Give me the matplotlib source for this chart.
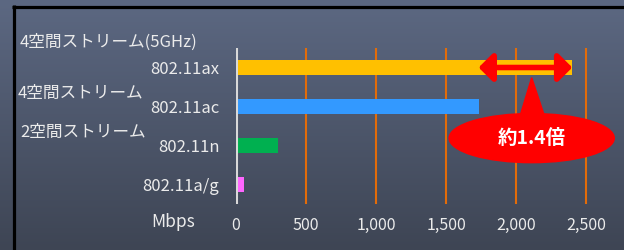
import numpy as np
import matplotlib.pyplot as plt
from matplotlib.patches import Ellipse, Polygon, FancyArrowPatch

plt.rcParams['font.family'] = ['Noto Sans CJK JP', 'DejaVu Sans']

# data
standards = ['802.11ax', '802.11ac', '802.11n', '802.11a/g']
speeds = [2402, 1733, 300, 54]
bar_colors = ['#FFC000', '#3399FF', '#00B050', '#FF66FF']
stream_labels = ['4空間ストリーム(5GHz)', '4空間ストリーム', '2空間ストリーム']
xticks = [0, 500, 1000, 1500, 2000, 2500]
callout_text = '約1.4倍'

txt = '#EBEBEB'

fig = plt.figure(figsize=(6.24, 2.5), dpi=100)

# background gradient
bg = fig.add_axes([0, 0, 1, 1], zorder=-10)
grad = np.linspace(0, 1, 256).reshape(-1, 1)
top = np.array([92, 104, 130]) / 255
bot = np.array([62, 69, 84]) / 255
img = top + (bot - top) * grad[..., None]
bg.imshow(img, aspect='auto', extent=[0, 1, 0, 1])
bg.set_xlim(0, 1)
bg.set_ylim(0, 1)
bg.axis('off')
# black frame lines (top and left)
bg.plot([12 / 624, 1], [1 - 6.5 / 250] * 2, color='black', lw=2.3, solid_capstyle='butt')
bg.plot([13.5 / 624] * 2, [0, 1 - 5 / 250], color='black', lw=2.3, solid_capstyle='butt')

ax = fig.add_axes([236 / 624, 46 / 250, 364 / 624, 156 / 250])
ax.patch.set_visible(False)
y = np.arange(len(standards))
ax.barh(y, speeds, height=0.36, color=bar_colors, zorder=3)
ax.set_xlim(0, 2600)
ax.set_ylim(len(standards) - 0.5, -0.5)
for s in ax.spines.values():
    s.set_visible(False)
ax.axvline(0, color='#D9D9D9', lw=2.2, zorder=4)
for xv in xticks[1:]:
    ax.axvline(xv, color='#E36C09', lw=1.5, zorder=1)

ax.set_xticks(xticks)
ax.set_xticklabels([f'{v:,}' for v in xticks])
ax.set_yticks(y)
ax.set_yticklabels(standards)
ax.tick_params(length=0, colors=txt, labelsize=11.5)
ax.tick_params(axis='x', pad=9)
ax.tick_params(axis='y', pad=12, labelsize=12)

fig.text(173 / 624, 1 - 222 / 250, 'Mbps', ha='center', va='center', color=txt, fontsize=12.5)
for lab, (xp, yp) in zip(stream_labels, [(20, 42), (18, 93), (20, 132)]):
    fig.text(xp / 624, 1 - yp / 250, lab, ha='left', va='center', color=txt, fontsize=12)

# double arrow between ac and ax speeds
arr = FancyArrowPatch((speeds[1], 0), (speeds[0], 0), arrowstyle='<|-|>,head_length=0.6,head_width=0.6',
                      mutation_scale=14, color='#FF0000', lw=4, zorder=6, shrinkA=0, shrinkB=0, clip_on=False)
ax.add_patch(arr)

# callout bubble
cx, cy = 2112, 1.81
ax.add_patch(Polygon([(cx, 0.26), (cx - 105, 1.5), (cx + 115, 1.5)], closed=True,
                     color='#FF0000', zorder=6, clip_on=False))
ax.add_patch(Ellipse((cx, cy), 1180, 1.26, color='#FF0000', zorder=6, clip_on=False))
ax.text(cx, cy, callout_text, ha='center', va='center', color='white', fontsize=14,
        fontweight='bold', zorder=7)

fig.savefig('out.png', dpi=100)
